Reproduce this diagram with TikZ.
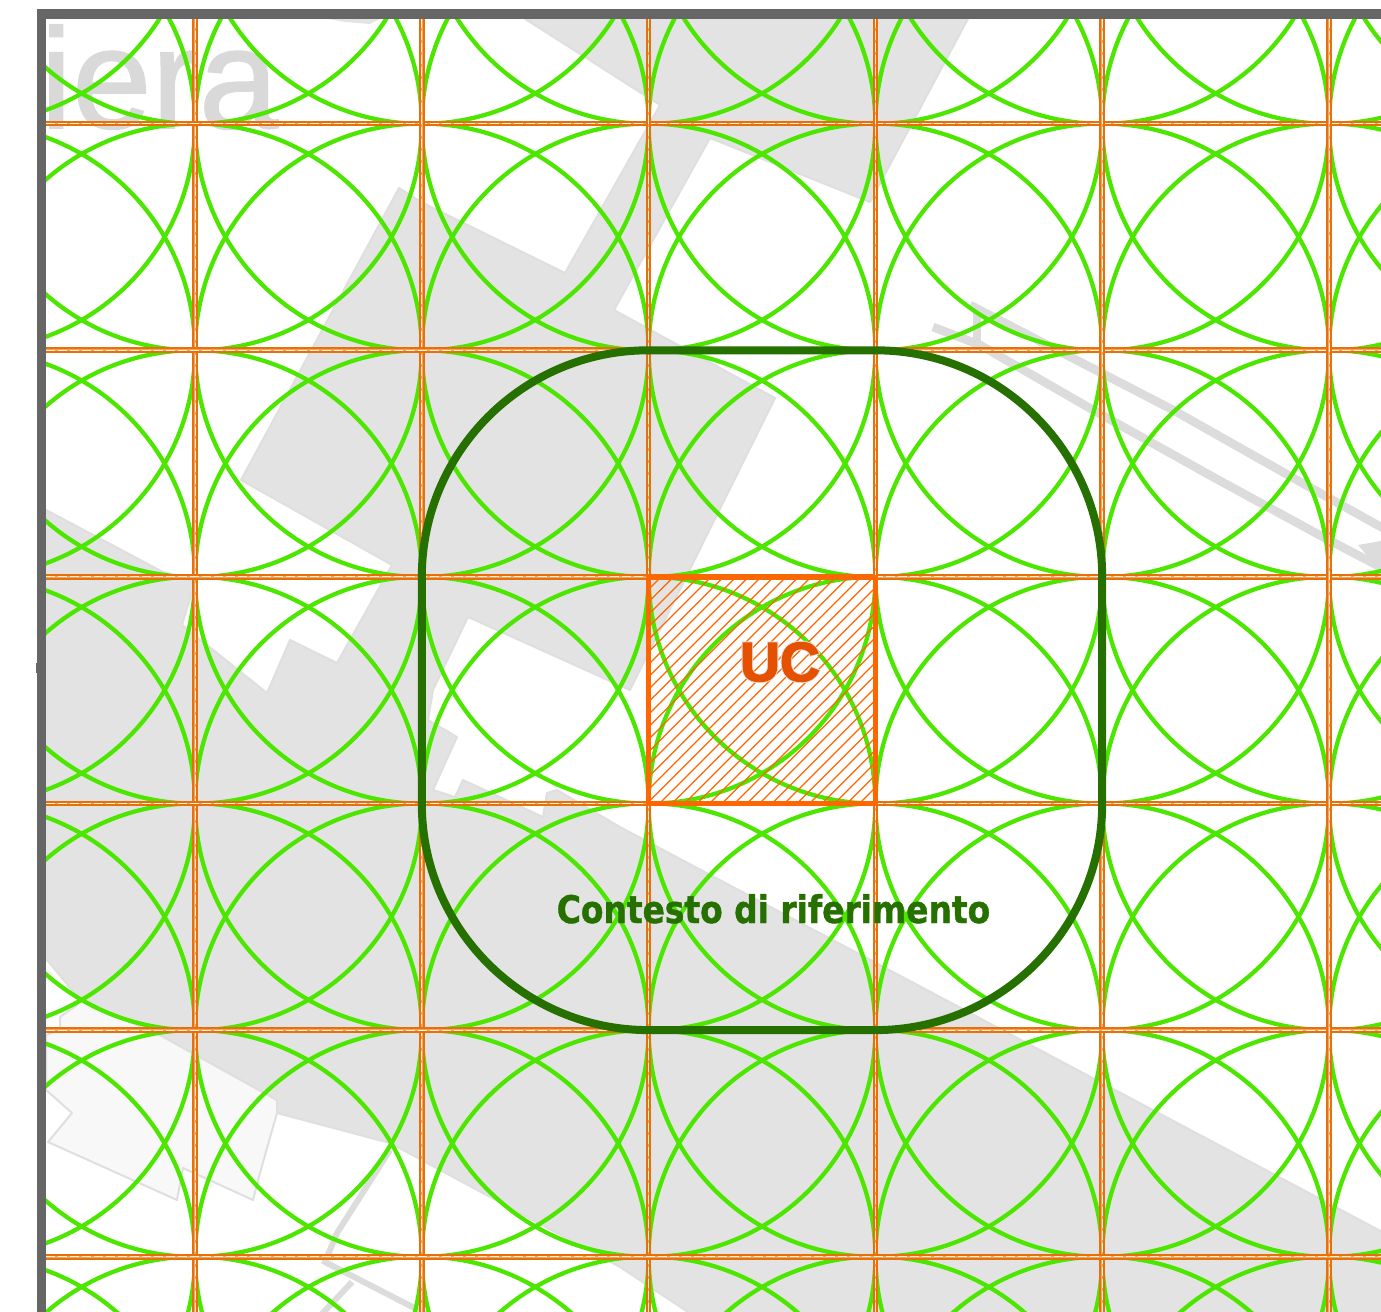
\documentclass[tikz,border=0pt]{standalone}
\usepackage{fontspec}
\newfontfamily\mapfont[FakeBold=1.2]{Liberation Sans}
\newfontfamily\ucfont[BoldFeatures={FakeBold=2.4}]{Liberation Sans}
\newfontfamily\uchalo[BoldFeatures={FakeBold=6}]{Liberation Sans}
\newfontfamily\ctxfont[FakeStretch=0.865,BoldFeatures={FakeBold=1.1,FakeStretch=0.865}]{DejaVu Sans}
\definecolor{framegray}{HTML}{666666}
\definecolor{mapfill}{HTML}{E3E3E3}
\definecolor{mapedge}{HTML}{DFDFDF}
\definecolor{mapstripe}{HTML}{DCDCDC}
\definecolor{lightfill}{HTML}{F8F8F8}
\definecolor{circlegreen}{HTML}{4CE600}
\definecolor{gridorange}{HTML}{E6700A}
\definecolor{gridmid}{HTML}{F0A560}
\definecolor{gridpale}{HTML}{FFEFD8}
\definecolor{ucorange}{HTML}{FF6600}
\definecolor{uctext}{HTML}{E65100}
\definecolor{ctxgreen}{HTML}{267000}
\tikzset{
  mapshape/.style={fill=mapfill,draw=mapedge,line width=1.5pt,line join=round},
  lightshape/.style={fill=lightfill,draw=mapedge,line width=1.5pt,line join=round},
  roadstripe/.style={draw=mapstripe,line width=6.5pt,line join=miter},
  thinstripe/.style={draw=mapstripe,line width=4.5pt,line join=miter},
  greencircle/.style={draw=circlegreen,line width=3.2pt},
  gridbase/.style={draw=gridorange,line width=4.2pt},
  gridcore/.style={draw=gridmid,line width=1.2pt},
  griddash/.style={draw=gridpale,line width=0.7pt,dash pattern=on 7pt off 2pt},
  ctxbox/.style={draw=ctxgreen,line width=6pt,rounded corners=170pt},
  ucbox/.style={draw=ucorange,line width=3.6pt},
  hatchline/.style={draw=ucorange,line width=0.85pt},
  txt/.style={inner sep=0pt,outer sep=0pt}
}
\begin{document}
\begin{tikzpicture}[x=0.75pt,y=-0.75pt]
\useasboundingbox (0,0) rectangle (1381,1312);
\begin{scope}
\clip (46,19) rectangle (1381,1312);
% map background
\node[txt,anchor=base west,text=black!15] (wm) at (40.5,128)
  {\mapfont\fontsize{107}{107}\selectfont iera};
\fill[mapfill] (328,19) -- (380,19) -- (370,24) -- (345,22) -- cycle;
\path[lightshape] (46,1035) -- (60,1030) -- (60,1017) -- (77,1005) -- (80,1000) -- (160,1035) -- (277,1100) -- (277,1113)
  -- (260,1173) -- (253,1200) -- (183,1168) -- (177,1200) -- (48,1142)
  -- (72,1113) -- (46,1090) -- cycle;
\path[mapshape] (519,15) -- (970,15) -- (870,202) -- (710,138) -- (614,310) -- (775,398)
  -- (630,690) -- (468,617) -- (433,690) -- (428,720) -- (457,737) -- (433,790)
  -- (455,797) -- (463,780) -- (543,817) -- (547,793) -- (557,790) -- (620,827)
  -- (1390,1236) -- (1390,1320) -- (700,1320) -- (620,1267) -- (390,1143) -- (277,1113)
  -- (277,1100) -- (160,1035) -- (80,1000) -- (47,960) -- (40,960) -- (40,507) -- (46,510)
  -- (163,572) -- (195,582) -- (182,625) -- (267,693) -- (290,640) -- (337,663)
  -- (392,565) -- (241,480) -- (399,188) -- (421,202) -- (565,273) -- (660,105) -- cycle;
% road stripes
\path[roadstripe] (970,305) -- (1173,410) -- (1327,497) -- (1390,532);
\path[roadstripe] (933,327) -- (980,345) -- (1093,410) -- (1213,477) -- (1323,537) -- (1390,572);
\path[roadstripe] (977,312) -- (977,345);
\fill[mapstripe] (1358,545) -- (1381,541) -- (1381,572) -- cycle;
\path[thinstripe] (390,1150) -- (337,1233) -- (325,1262) -- (430,1316);
\path[thinstripe] (352,1282) -- (320,1316);
% circles
\foreach \i in {-1,...,6}
  \foreach \j in {-1,...,6}
    \draw[greencircle] ({195+\i*226.8},{123.7+\j*226.6}) circle [radius=226.7];
% grid
\foreach \i in {0,...,5} {
  \draw[gridbase] ({195+\i*226.8},19) -- ({195+\i*226.8},1312);
  \draw[gridcore] ({195+\i*226.8},19) -- ({195+\i*226.8},1312);
  \draw[griddash] ({195+\i*226.8},19) -- ({195+\i*226.8},1312);
  \draw[gridbase] (46,{123.7+\i*226.6}) -- (1381,{123.7+\i*226.6});
  \draw[gridcore] (46,{123.7+\i*226.6}) -- (1381,{123.7+\i*226.6});
  \draw[griddash] (46,{123.7+\i*226.6}) -- (1381,{123.7+\i*226.6});
}
% unit cell
\begin{scope}
\clip (648.6,576.9) rectangle (875.4,803.5);
\foreach \k in {0,...,37}
  \draw[hatchline] ({648.6-226.6+\k*12.5},803.5) -- ({648.6+\k*12.5},576.9);
\end{scope}
\draw[ucbox] (648.6,576.9) rectangle (875.4,803.5);
\node[txt,text=black!13] (ucshadow) at (780,662)
  {\uchalo\bfseries\fontsize{41.5}{41.5}\selectfont UC};
\node[txt,text=uctext] (uc) at (780,662)
  {\ucfont\bfseries\fontsize{41.5}{41.5}\selectfont UC};
% context
\draw[ctxbox] (421.8,350.3) rectangle (1102.2,1030.1);
\node[txt,text=ctxgreen,anchor=base] (ctx) at (773.5,923)
  {\ctxfont\bfseries\fontsize{28.5}{28.5}\selectfont Contesto di riferimento};
\end{scope}
% frame
\draw[draw=framegray,line width=7.1pt] (41.3,1320) -- (41.3,14.2) -- (1390,14.2);
\fill[framegray] (35.8,663) rectangle (37,673);
\end{tikzpicture}
\end{document}
